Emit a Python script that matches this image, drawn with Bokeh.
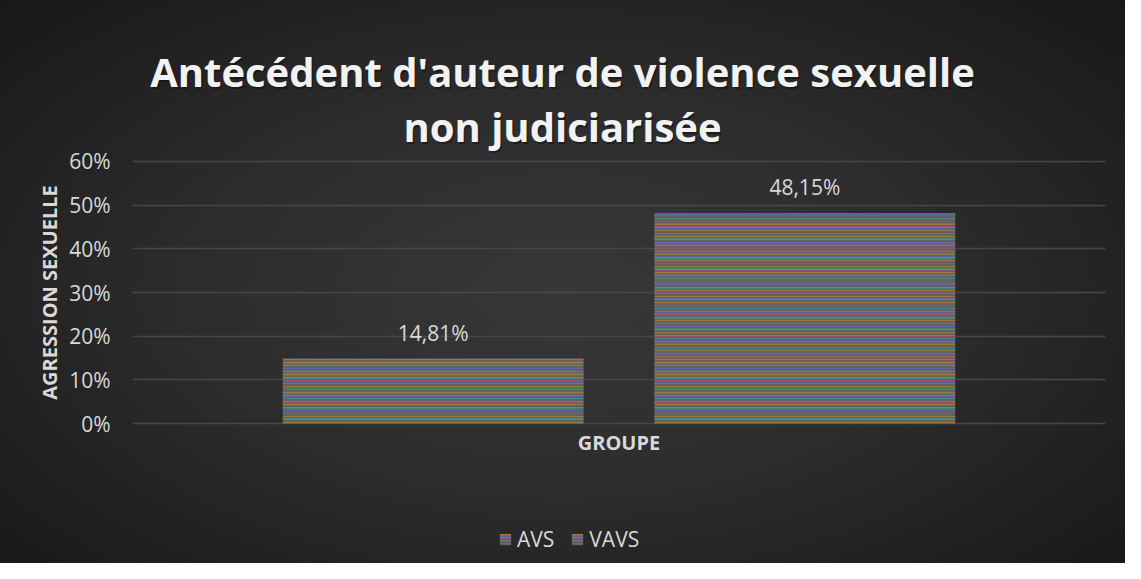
from bokeh.plotting import figure
from bokeh.models import (ColumnDataSource, FactorRange, Range1d, Label, LabelSet,
                          Legend, LegendItem, NumeralTickFormatter, FixedTicker)
from bokeh.core.properties import value
from bokeh.transform import dodge
from bokeh.embed import file_html
from bokeh.resources import INLINE

# ---- data ----
categories = ["GROUPE"]
series = ["AVS", "VAVS"]
avs_values = [0.1481]
vavs_values = [0.4815]
y_ticks = [0.0, 0.1, 0.2, 0.3, 0.4, 0.5, 0.6]
title_lines = ["Antécédent d'auteur de violence sexuelle", "non judiciarisée"]
y_axis_title = "AGRESSION SEXUELLE"

def fmt(v):
    return f"{v*100:.2f}%".replace(".", ",")

FONT = "Open Sans"
TXT = "#d9d9d9"

# the frame covers the full height so title / legend / category label sit inside it
p = figure(width=1125, height=563, x_range=FactorRange(*categories),
           y_range=Range1d(-0.3206, 0.9206), output_backend="svg", toolbar_location=None,
           min_border_left=132, min_border_right=20, min_border_top=21,
           min_border_bottom=0)
p.background_fill_color = None
p.border_fill_color = None
p.outline_line_color = None
p.styles = {"background": "radial-gradient(ellipse 75% 80% at 50% 52%, #383838 0%, #2c2c2c 45%, #151515 100%)"}

# axes
p.xaxis.visible = False
p.yaxis.ticker = FixedTicker(ticks=y_ticks)
p.yaxis.formatter = NumeralTickFormatter(format="0%")
p.yaxis.axis_line_color = None
p.yaxis.major_tick_line_color = None
p.yaxis.minor_tick_line_color = None
p.yaxis.major_label_text_color = TXT
p.yaxis.major_label_text_font = FONT
p.yaxis.major_label_text_font_size = "21px"
p.yaxis.major_label_standoff = 16
p.yaxis.axis_label = y_axis_title
p.yaxis.axis_label_text_font = FONT
p.yaxis.axis_label_text_font_style = "bold"
p.yaxis.axis_label_text_font_size = "20px"
p.yaxis.axis_label_text_color = TXT
p.yaxis.axis_label_standoff = 3

p.xgrid.grid_line_color = None
p.ygrid.grid_line_color = "#474747"
p.ygrid.grid_line_width = 1.3

# bars with multicoloured horizontal stripes
bar_w = 0.309
offset = 0.191
stripe_layers = [("#a07a3e", 3, 1.0), ("#3f8a78", 5, 1.0), ("#5a5fae", 7, 1.0), ("#9a4a6a", 11, 1.0)]

def draw(values, label, off):
    src = ColumnDataSource(dict(x=categories, top=values, lab=[fmt(v) for v in values]))
    rs = []
    rs.append(p.vbar(x=dodge("x", off, range=p.x_range), top="top", width=bar_w, source=src,
                     fill_color="#66605e", line_color=None))
    for col, sc, wt in stripe_layers:
        rs.append(p.vbar(x=dodge("x", off, range=p.x_range), top="top", width=bar_w, source=src,
                         fill_alpha=0, line_color=None, hatch_pattern="horizontal_line",
                         hatch_color=col, hatch_scale=sc, hatch_weight=wt, hatch_alpha=0.9))
    ls = LabelSet(x=dodge("x", off, range=p.x_range), y="top", text="lab", source=src,
                  text_align="center", text_baseline="middle", y_offset=26,
                  text_font=value(FONT), text_font_size=value("21px"), text_color=value(TXT))
    p.add_layout(ls)
    return LegendItem(label=label, renderers=rs)

items = [draw(avs_values, series[0], -offset), draw(vavs_values, series[1], offset)]

# category label under the baseline
cat_src = ColumnDataSource(dict(x=categories, y=[0.0] * len(categories), t=categories))
p.add_layout(LabelSet(x="x", y="y", text="t", source=cat_src, text_align="center",
                      text_baseline="middle", y_offset=-19, text_font=value(FONT),
                      text_font_style=value("bold"), text_font_size=value("20px"),
                      text_color=value(TXT)))

legend = Legend(items=items, orientation="horizontal", location=(366, 10),
                background_fill_alpha=0, border_line_color=None,
                label_text_color=TXT, label_text_font=FONT, label_text_font_size="21px",
                glyph_width=14, glyph_height=14, spacing=16, label_standoff=5, padding=0, margin=0)
p.add_layout(legend, "center")

# title (with soft shadow)
for i, line in enumerate(title_lines):
    y = 492 - 55 * i
    p.add_layout(Label(x=431.5, y=y - 1.5, x_units="screen", y_units="screen", text=line,
                       text_align="center", text_baseline="middle", text_font=FONT,
                       text_font_style="bold", text_font_size="40px", text_color="black",
                       text_alpha=0.35))
    p.add_layout(Label(x=430, y=y, x_units="screen", y_units="screen", text=line,
                       text_align="center", text_baseline="middle", text_font=FONT,
                       text_font_style="bold", text_font_size="40px", text_color="#f2f2f2"))

open("out.html", "w").write(file_html(p, INLINE))
